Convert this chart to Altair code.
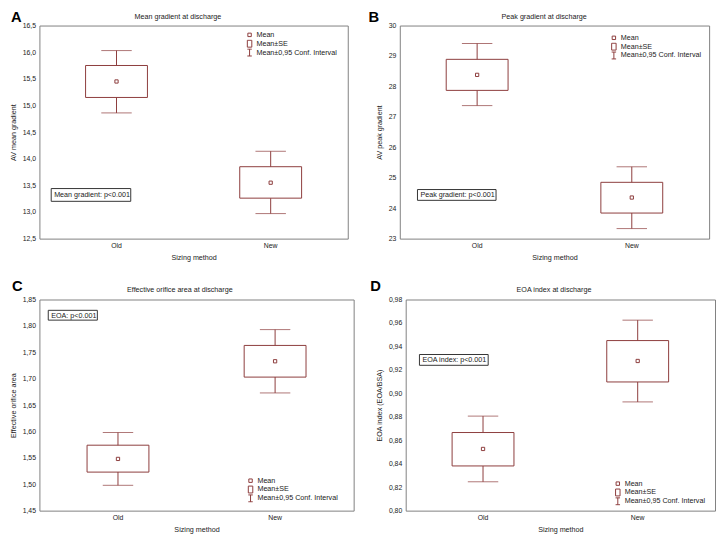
import altair as alt
import pandas as pd

FONT = "Liberation Sans"
RED = "#8C3B3B"
TXT = "#222222"

groups = ["Old", "New"]
x_title = "Sizing method"

# ---- data ----
a_mean = [15.45, 13.55]
a_se_lo = [15.15, 13.26]
a_se_hi = [15.75, 13.85]
a_ci_lo = [14.86, 12.97]
a_ci_hi = [16.03, 14.14]
a_ticks = [12.5, 13.0, 13.5, 14.0, 14.5, 15.0, 15.5, 16.0, 16.5]

b_mean = [28.38, 24.35]
b_se_lo = [27.87, 23.84]
b_se_hi = [28.89, 24.85]
b_ci_lo = [27.37, 23.33]
b_ci_hi = [29.41, 25.36]
b_ticks = [23, 24, 25, 26, 27, 28, 29, 30]

c_mean = [1.548, 1.733]
c_se_lo = [1.523, 1.703]
c_se_hi = [1.574, 1.763]
c_ci_lo = [1.498, 1.673]
c_ci_hi = [1.598, 1.793]
c_ticks = [1.45, 1.50, 1.55, 1.60, 1.65, 1.70, 1.75, 1.80, 1.85]

d_mean = [0.8526, 0.9276]
d_se_lo = [0.8381, 0.9097]
d_se_hi = [0.8666, 0.9450]
d_ci_lo = [0.8246, 0.8927]
d_ci_hi = [0.8806, 0.9624]
d_ticks = [0.80, 0.82, 0.84, 0.86, 0.88, 0.90, 0.92, 0.94, 0.96, 0.98]

legend_items = ["Mean", "Mean±SE", "Mean±0,95 Conf. Interval"]
legend_paths = [
    "M-0.5,-0.5H0.5V0.5H-0.5Z",
    "M-0.65,-1H0.65V1H-0.65Z",
    "M-0.65,-1H0.65M0,-1V1M-0.65,1H0.65",
]

panels = [
    dict(letter="A", title="Mean gradient at discharge", ytitle="AV mean gradient",
         mean=a_mean, se_lo=a_se_lo, se_hi=a_se_hi, ci_lo=a_ci_lo, ci_hi=a_ci_hi,
         ticks=a_ticks, fmt=".1f", note="Mean gradient: p<0.001"),
    dict(letter="B", title="Peak gradient at discharge", ytitle="AV peak gradient",
         mean=b_mean, se_lo=b_se_lo, se_hi=b_se_hi, ci_lo=b_ci_lo, ci_hi=b_ci_hi,
         ticks=b_ticks, fmt="d", note="Peak gradient: p<0.001"),
    dict(letter="C", title="Effective orifice area at discharge", ytitle="Effective orifice area",
         mean=c_mean, se_lo=c_se_lo, se_hi=c_se_hi, ci_lo=c_ci_lo, ci_hi=c_ci_hi,
         ticks=c_ticks, fmt=".2f", note="EOA: p<0.001"),
    dict(letter="D", title="EOA index at discharge", ytitle="EOA index (EOA/BSA)",
         mean=d_mean, se_lo=d_se_lo, se_hi=d_se_hi, ci_lo=d_ci_lo, ci_hi=d_ci_hi,
         ticks=d_ticks, fmt=".2f", note="EOA index: p<0.001"),
]

# ---- layout / style (pixels, relative to each plot area) ----
layout = {
    "A": dict(w=314, h=217, lx=-29, ly=-16, tx=141, ty=-9, leg=(210, 5), box=(12, 93, 166, 179)),
    "B": dict(w=315, h=217, lx=-32, ly=-16, tx=147, ty=-9, leg=(214, 8), box=(18, 98, 167, 178)),
    "C": dict(w=320, h=215, lx=-28, ly=-21, tx=143, ty=-10, leg=(211, 180), box=(9, 59, 11, 21)),
    "D": dict(w=315, h=215, lx=-36, ly=-21, tx=151, ty=-10, leg=(212, 183), box=(14, 84, 56, 67)),
}


def panel(p):
    L = layout[p["letter"]]
    df = pd.DataFrame({
        "group": groups, "mean": p["mean"], "se_lo": p["se_lo"], "se_hi": p["se_hi"],
        "ci_lo": p["ci_lo"], "ci_hi": p["ci_hi"],
    })
    xenc = alt.X("group:N", sort=groups,
                 scale=alt.Scale(domain=groups, paddingInner=0, paddingOuter=0),
                 axis=alt.Axis(title=x_title, labelAngle=0, ticks=False, domain=False,
                               labelPadding=3, titlePadding=5))
    yscale = alt.Scale(domain=[p["ticks"][0], p["ticks"][-1]], nice=False, zero=False)
    yaxis = alt.Axis(title=p["ytitle"], values=p["ticks"], ticks=False, domain=False, grid=False,
                     labelPadding=4, titlePadding=5, labelOverlap=False,
                     labelExpr="replace(format(datum.value, '%s'), '.', ',')" % p["fmt"])

    def Y(field):
        return alt.Y(field, scale=yscale, axis=yaxis)

    base = alt.Chart(df)
    whisk = base.mark_rule(color=RED, strokeWidth=1).encode(x=xenc, y=Y("ci_lo:Q"), y2="ci_hi:Q")
    cap_lo = base.mark_tick(color=RED, size=31, thickness=1).encode(x=xenc, y=Y("ci_lo:Q"))
    cap_hi = base.mark_tick(color=RED, size=31, thickness=1).encode(x=xenc, y=Y("ci_hi:Q"))
    box = base.mark_bar(fill="white", stroke=RED, strokeWidth=1, size=63).encode(
        x=xenc, y=Y("se_lo:Q"), y2="se_hi:Q")
    mean = base.mark_point(shape="square", size=11, filled=False, color=RED, strokeWidth=1, opacity=1).encode(
        x=xenc, y=Y("mean:Q"))

    leg = alt.Chart(pd.DataFrame({"item": legend_items})).mark_point(
        filled=False, color=RED, opacity=0).encode(
        shape=alt.Shape("item:N", sort=legend_items,
                        scale=alt.Scale(domain=legend_items, range=legend_paths),
                        legend=alt.Legend(title=None, orient="none", legendX=L["leg"][0], legendY=L["leg"][1],
                                          symbolSize=49, symbolStrokeColor=RED, symbolStrokeWidth=1,
                                          symbolFillColor="transparent", symbolOpacity=1,
                                          labelFont=FONT, labelFontSize=7.3, labelColor=TXT,
                                          labelOffset=3, rowPadding=0, padding=0, labelLimit=200,
                                          clipHeight=9)))

    one = alt.Chart(pd.DataFrame({"note": [p["note"]], "title": [p["title"]], "letter": [p["letter"]]}))
    bx = L["box"]
    note_box = one.mark_rect(fill="white", stroke="#333333", strokeWidth=1).encode(
        x=alt.value(bx[0]), x2=alt.value(bx[1]), y=alt.value(bx[2]), y2=alt.value(bx[3]))
    note_txt = one.mark_text(align="left", baseline="middle", font=FONT, fontSize=7.3, color=TXT).encode(
        x=alt.value(bx[0] + 3), y=alt.value((bx[2] + bx[3]) / 2 + 0.5), text="note:N")
    title_txt = one.mark_text(align="center", baseline="middle", font=FONT, fontSize=7.3, color=TXT).encode(
        x=alt.value(L["tx"]), y=alt.value(L["ty"]), text="title:N")
    letter_txt = one.mark_text(align="left", baseline="top", font=FONT, fontSize=15,
                               fontWeight="bold", color="black").encode(
        x=alt.value(L["lx"]), y=alt.value(L["ly"]), text="letter:N")

    return alt.layer(whisk, cap_lo, cap_hi, box, mean, leg, note_box, note_txt, title_txt, letter_txt).properties(
        width=L["w"], height=L["h"]).resolve_scale(shape="independent")


row1 = alt.hconcat(panel(panels[0]), panel(panels[1]), spacing=19).resolve_scale(
    shape="independent").resolve_legend(shape="independent")
row2 = alt.hconcat(panel(panels[2]), panel(panels[3]), spacing=15).resolve_scale(
    shape="independent").resolve_legend(shape="independent")
chart = alt.vconcat(row1, row2, spacing=17, padding={"left": 0, "top": -4, "right": 0, "bottom": 0}).resolve_scale(
    shape="independent").resolve_legend(shape="independent").configure_view(
    stroke="#808080", strokeWidth=1
).configure_axis(
    labelFont=FONT, titleFont=FONT, labelFontSize=7, titleFontSize=7.3,
    labelColor=TXT, titleColor=TXT, titleFontWeight="normal", labelOverlap=False
)

chart.save("out.html", embed_options={"renderer": "svg", "actions": False})
